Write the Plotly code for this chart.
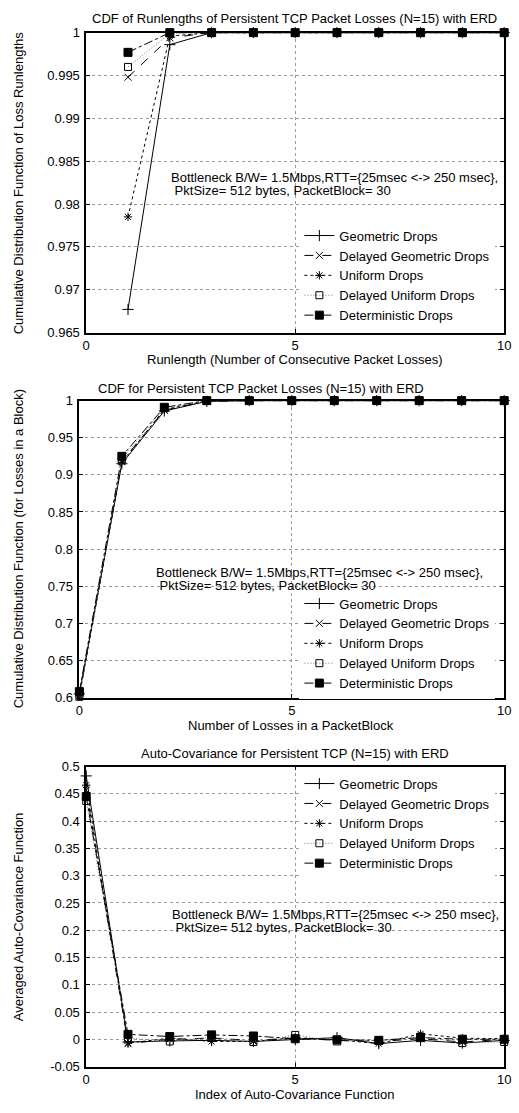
import plotly.graph_objects as go

# Panel 1: CDF of runlengths
runlength_x = [1, 2, 3, 4, 5, 6, 7, 8, 9, 10]
rl_geometric = [0.9677, 0.9986, 1, 1, 1, 1, 1, 1, 1, 1]
rl_delayed_geometric = [0.9948, 0.9994, 1, 1, 1, 1, 1, 1, 1, 1]
rl_uniform = [0.9785, 0.9996, 1, 1, 1, 1, 1, 1, 1, 1]
rl_delayed_uniform = [0.9960, 0.9999, 1, 1, 1, 1, 1, 1, 1, 1]
rl_deterministic = [0.9977, 1.0, 1, 1, 1, 1, 1, 1, 1, 1]

# Panel 2: CDF of losses in a block
block_x = [0, 1, 2, 3, 4, 5, 6, 7, 8, 9, 10]
blk_geometric = [0.605, 0.915, 0.986, 0.999, 1, 1, 1, 1, 1, 1, 1]
blk_delayed_geometric = [0.603, 0.918, 0.987, 0.999, 1, 1, 1, 1, 1, 1, 1]
blk_uniform = [0.602, 0.917, 0.988, 0.9995, 1, 1, 1, 1, 1, 1, 1]
blk_delayed_uniform = [0.601, 0.921, 0.990, 0.9995, 1, 1, 1, 1, 1, 1, 1]
blk_deterministic = [0.608, 0.925, 0.991, 1.0, 1, 1, 1, 1, 1, 1, 1]

# Panel 3: averaged auto-covariance
acv_x = [0, 1, 2, 3, 4, 5, 6, 7, 8, 9, 10]
acv_geometric = [0.483, -0.005, -0.003, -0.002, -0.004, 0.000, 0.003, -0.008, -0.002, -0.007, -0.002]
acv_delayed_geometric = [0.457, -0.008, 0.000, 0.002, -0.002, 0.002, -0.002, -0.004, 0.001, -0.005, 0.000]
acv_uniform = [0.466, -0.007, 0.002, -0.004, -0.004, 0.003, -0.001, -0.008, 0.010, 0.002, 0.001]
acv_delayed_uniform = [0.437, 0.002, -0.004, 0.004, -0.005, 0.008, -0.004, -0.002, 0.005, -0.007, -0.005]
acv_deterministic = [0.445, 0.009, 0.005, 0.008, 0.006, 0.001, -0.001, -0.002, 0.003, 0.000, 0.000]

series_names = ["Geometric Drops", "Delayed Geometric Drops", "Uniform Drops",
                "Delayed Uniform Drops", "Deterministic Drops"]

x_ticks = [0, 5, 10]
y1_ticks = [0.965, 0.97, 0.975, 0.98, 0.985, 0.99, 0.995, 1]
y1_labels = ["0.965", "0.97", "0.975", "0.98", "0.985", "0.99", "0.995", "1"]
y2_ticks = [0.6, 0.65, 0.7, 0.75, 0.8, 0.85, 0.9, 0.95, 1]
y2_labels = ["0.6", "0.65", "0.7", "0.75", "0.8", "0.85", "0.9", "0.95", "1"]
y3_ticks = [-0.05, 0, 0.05, 0.1, 0.15, 0.2, 0.25, 0.3, 0.35, 0.4, 0.45, 0.5]
y3_labels = ["-0.05", "0", "0.05", "0.1", "0.15", "0.2", "0.25", "0.3", "0.35", "0.4", "0.45", "0.5"]

FONT = "Liberation Sans, Arial, Helvetica, sans-serif"

styles = [
    dict(dash="solid", color="black", symbol="cross-thin-open", size=8),
    dict(dash="dash", color="black", symbol="x-thin-open", size=7),
    dict(dash="dot", color="black", symbol="asterisk-open", size=7),
    dict(dash="1px,2px", color="#777777", symbol="square-open", size=7),
    dict(dash="dashdot", color="black", symbol="square", size=8),
]

fig = go.Figure()

panels = [
    (runlength_x, [rl_geometric, rl_delayed_geometric, rl_uniform, rl_delayed_uniform, rl_deterministic], "x", "y", "legend"),
    (block_x, [blk_geometric, blk_delayed_geometric, blk_uniform, blk_delayed_uniform, blk_deterministic], "x2", "y2", "legend2"),
    (acv_x, [acv_geometric, acv_delayed_geometric, acv_uniform, acv_delayed_uniform, acv_deterministic], "x3", "y3", "legend3"),
]

for xs, ys_list, xa, ya, lg in panels:
    for name, ys, st in zip(series_names, ys_list, styles):
        fig.add_trace(go.Scatter(
            x=xs, y=ys, name=name, mode="lines+markers",
            xaxis=xa, yaxis=ya, legend=lg, cliponaxis=False,
            line=dict(color=st["color"], width=1, dash=st["dash"]),
            marker=dict(symbol=st["symbol"], size=st["size"], color="black",
                        line=dict(color="black", width=1)),
        ))

W, H = 519, 1113


def px(x):
    return x / W


def py(y):
    return 1 - y / H


axis_common = dict(
    showline=True, linecolor="black", linewidth=1.5, mirror="allticks",
    ticks="inside", ticklen=4, tickcolor="black",
    showgrid=True, gridcolor="#999999", griddash="dot", gridwidth=1,
    zeroline=False, tickfont=dict(family=FONT, size=13, color="black"),
    ticklabeloverflow="allow",
)

xcommon = dict(axis_common, range=[0, 10], tickvals=x_ticks, ticklabelstandoff=0)
ycommon = dict(axis_common, ticklabelstandoff=2)

legend_common = dict(xanchor="right", bgcolor="white", font=dict(size=13), itemwidth=30)

fig.update_layout(
    width=W, height=H,
    margin=dict(l=0, r=0, t=0, b=0),
    paper_bgcolor="white", plot_bgcolor="white",
    font=dict(family=FONT, size=13, color="black"),
    xaxis=dict(xcommon, domain=[px(84), px(511)], anchor="y"),
    yaxis=dict(ycommon, domain=[py(330), py(26)], range=[0.965, 1],
               tickvals=y1_ticks, ticktext=y1_labels, anchor="x"),
    xaxis2=dict(xcommon, domain=[px(77), px(511)], anchor="y2"),
    yaxis2=dict(ycommon, domain=[py(700), py(399)], range=[0.6, 1],
                tickvals=y2_ticks, ticktext=y2_labels, anchor="x2"),
    xaxis3=dict(xcommon, domain=[px(84), px(511)], anchor="y3"),
    yaxis3=dict(ycommon, domain=[py(1074), py(770)], range=[-0.05, 0.5],
                tickvals=y3_ticks, ticktext=y3_labels, anchor="x3"),
    legend=dict(legend_common, x=px(502), y=py(328), yanchor="bottom"),
    legend2=dict(legend_common, x=px(502), y=py(701), yanchor="bottom"),
    legend3=dict(legend_common, x=px(502), y=py(772), yanchor="top"),
)

note1 = "Bottleneck B/W= 1.5Mbps,RTT={25msec <-> 250 msec},"
note2 = " PktSize= 512 bytes, PacketBlock= 30"

texts = [
    # titles
    ("CDF of Runlengths of Persistent TCP Packet Losses (N=15) with ERD", 297, 12, 0, "center"),
    ("CDF for Persistent TCP Packet Losses (N=15) with ERD", 263, 387, 0, "center"),
    ("Auto-Covariance for Persistent TCP (N=15) with ERD", 297, 757, 0, "center"),
    # x axis titles
    ("Runlength (Number of Consecutive Packet Losses)", 297, 357, 0, "center"),
    ("Number of Losses in a PacketBlock", 293, 728, 0, "center"),
    ("Index of Auto-Covariance Function", 297, 1102, 0, "center"),
    # y axis titles
    ("Cumulative Distribution Function of Loss Runlengths", 15, 178, -90, "center"),
    ("Cumulative Distribution Function (for Losses in a Block)", 15, 549, -90, "center"),
    ("Averaged Auto-Covariance Function", 15, 922, -90, "center"),
    # notes
    (note1, 169, 173, 0, "left"),
    (note2, 169, 186, 0, "left"),
    (note1, 153, 573, 0, "left"),
    (note2, 153, 586, 0, "left"),
    (note1, 170, 920, 0, "left"),
    (note2, 170, 933, 0, "left"),
]

for t, x, y, ang, anchor in texts:
    fig.add_annotation(text=t, x=px(x), y=py(y), xref="paper", yref="paper",
                       xanchor=anchor, yanchor="middle", textangle=ang,
                       showarrow=False, font=dict(family=FONT, size=13, color="black"))

# drop the default page margin so the 519x1113 figure fills the window exactly
fig.write_html("out.html", config={"displayModeBar": False},
               post_script="document.body.style.margin='0';document.body.style.overflow='hidden';")
